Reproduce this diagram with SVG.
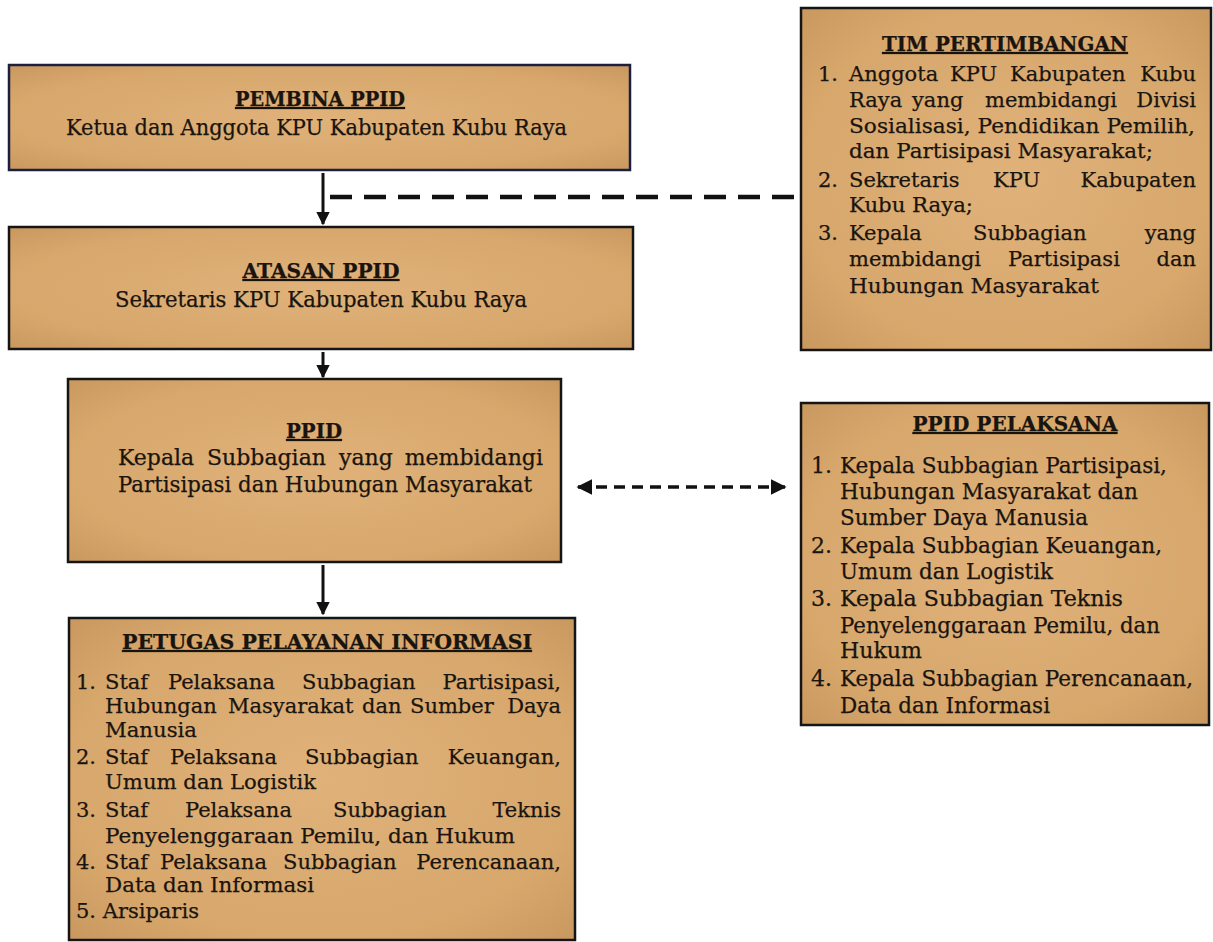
<svg xmlns="http://www.w3.org/2000/svg" width="1213" height="942" viewBox="0 0 1213 942">
<defs>
<radialGradient id="tan" cx="50%" cy="50%" r="72%">
<stop offset="0" stop-color="#E0B27A"/>
<stop offset="0.7" stop-color="#D7A76C"/>
<stop offset="1" stop-color="#C8975E"/>
</radialGradient>
<marker id="ah" viewBox="0 0 10 10" refX="9" refY="5" markerWidth="4.5" markerHeight="4.5" orient="auto-start-reverse" markerUnits="strokeWidth">
<path d="M0,0 L10,5 L0,10 z" fill="#111"/>
</marker>
<style>
.box{fill:url(#tan);stroke:#151515;stroke-width:2.5}
.t{font-family:"DejaVu Serif","Liberation Serif",serif;font-size:22px;fill:#1a140e;stroke:#1a140e;stroke-width:0.25}
.s{font-size:21px}
.m{font-size:21px}
.h{font-weight:bold;text-decoration:underline;text-anchor:middle;font-size:20px}
.con{stroke:#111;fill:none}
</style>
</defs>
<rect width="1213" height="942" fill="#ffffff"/>

<g id="connectors">
<line class="con" x1="323" y1="173" x2="323" y2="224" stroke-width="3" marker-end="url(#ah)"/>
<line class="con" x1="330" y1="197" x2="800" y2="197" stroke-width="4.5" stroke-dasharray="22,12"/>
<line class="con" x1="323" y1="352" x2="323" y2="377" stroke-width="3" marker-end="url(#ah)"/>
<line class="con" x1="323" y1="565" x2="323" y2="614" stroke-width="3" marker-end="url(#ah)"/>
<line class="con" x1="578" y1="487" x2="785" y2="487" stroke-width="3.5" stroke-dasharray="11,7" marker-start="url(#ah)" marker-end="url(#ah)"/>
</g>

<g id="pembina">
<rect class="box" x="9" y="65" width="621" height="105" style="stroke:#1c2040"/>
<text class="t h" x="320" y="106" textLength="170" lengthAdjust="spacingAndGlyphs">PEMBINA PPID</text>
<text class="t" x="66" y="135" textLength="501" lengthAdjust="spacingAndGlyphs">Ketua dan Anggota KPU Kabupaten Kubu Raya</text>
</g>

<g id="atasan">
<rect class="box" x="9" y="227" width="624" height="122"/>
<text class="t h" x="321" y="278" textLength="157" lengthAdjust="spacingAndGlyphs">ATASAN PPID</text>
<text class="t" x="115" y="307" textLength="412" lengthAdjust="spacingAndGlyphs">Sekretaris KPU Kabupaten Kubu Raya</text>
</g>

<g id="ppid">
<rect class="box" x="68" y="379" width="493" height="183"/>
<text class="t h" x="314" y="438" textLength="56" lengthAdjust="spacingAndGlyphs">PPID</text>
<text class="t" y="465"><tspan x="118">Kepala</tspan><tspan x="207">Subbagian</tspan><tspan x="339">yang</tspan><tspan x="543" text-anchor="end">membidangi</tspan></text>
<text class="t" x="118" y="492" textLength="414" lengthAdjust="spacingAndGlyphs">Partisipasi dan Hubungan Masyarakat</text>
</g>

<g id="petugas">
<rect class="box" x="69" y="618" width="506" height="322"/>
<text class="t h" x="327" y="649" textLength="410" lengthAdjust="spacingAndGlyphs">PETUGAS PELAYANAN INFORMASI</text>
<g class="t s">
<text x="76" y="689">1.</text>
<text y="689"><tspan x="105">Staf</tspan><tspan x="168">Pelaksana</tspan><tspan x="302">Subbagian</tspan><tspan x="561" text-anchor="end">Partisipasi,</tspan></text>
<text y="713"><tspan x="105">Hubungan</tspan><tspan x="228">Masyarakat</tspan><tspan x="362">dan</tspan><tspan x="410">Sumber</tspan><tspan x="561" text-anchor="end">Daya</tspan></text>
<text x="105" y="737" textLength="92" lengthAdjust="spacingAndGlyphs">Manusia</text>
<text x="76" y="764">2.</text>
<text y="764"><tspan x="105">Staf</tspan><tspan x="170">Pelaksana</tspan><tspan x="305">Subbagian</tspan><tspan x="561" text-anchor="end">Keuangan,</tspan></text>
<text x="105" y="789" textLength="211" lengthAdjust="spacingAndGlyphs">Umum dan Logistik</text>
<text x="76" y="817">3.</text>
<text y="817"><tspan x="105">Staf</tspan><tspan x="185">Pelaksana</tspan><tspan x="333">Subbagian</tspan><tspan x="561" text-anchor="end">Teknis</tspan></text>
<text x="105" y="843" textLength="410" lengthAdjust="spacingAndGlyphs">Penyelenggaraan Pemilu, dan Hukum</text>
<text x="76" y="869">4.</text>
<text y="869"><tspan x="105">Staf</tspan><tspan x="160">Pelaksana</tspan><tspan x="283">Subbagian</tspan><tspan x="561" text-anchor="end">Perencanaan,</tspan></text>
<text x="105" y="892" textLength="209" lengthAdjust="spacingAndGlyphs">Data dan Informasi</text>
<text x="76" y="918">5. Arsiparis</text>
</g>
</g>

<g id="tim">
<rect class="box" x="801" y="8" width="410" height="342"/>
<text class="t h" x="1005" y="51" textLength="246" lengthAdjust="spacingAndGlyphs">TIM PERTIMBANGAN</text>
<g class="t m">
<text x="818" y="81">1.</text>
<text y="81"><tspan x="849">Anggota</tspan><tspan x="950">KPU</tspan><tspan x="1010">Kabupaten</tspan><tspan x="1196" text-anchor="end">Kubu</tspan></text>
<text y="107"><tspan x="849">Raya</tspan><tspan x="912">yang</tspan><tspan x="985">membidangi</tspan><tspan x="1196" text-anchor="end">Divisi</tspan></text>
<text x="849" y="133" textLength="346" lengthAdjust="spacingAndGlyphs">Sosialisasi, Pendidikan Pemilih,</text>
<text x="849" y="158" textLength="304" lengthAdjust="spacingAndGlyphs">dan Partisipasi Masyarakat;</text>
<text x="818" y="187">2.</text>
<text y="187"><tspan x="849">Sekretaris</tspan><tspan x="993">KPU</tspan><tspan x="1196" text-anchor="end">Kabupaten</tspan></text>
<text x="849" y="212" textLength="124" lengthAdjust="spacingAndGlyphs">Kubu Raya;</text>
<text x="818" y="240">3.</text>
<text y="240"><tspan x="849">Kepala</tspan><tspan x="973">Subbagian</tspan><tspan x="1196" text-anchor="end">yang</tspan></text>
<text y="266"><tspan x="849">membidangi</tspan><tspan x="1008">Partisipasi</tspan><tspan x="1196" text-anchor="end">dan</tspan></text>
<text x="849" y="293" textLength="250" lengthAdjust="spacingAndGlyphs">Hubungan Masyarakat</text>
</g>
</g>

<g id="pelaksana">
<rect class="box" x="801" y="403" width="408" height="322"/>
<text class="t h" x="1015" y="431" textLength="205" lengthAdjust="spacingAndGlyphs">PPID PELAKSANA</text>
<g class="t">
<text x="811" y="473">1.</text>
<text x="840" y="473" textLength="327" lengthAdjust="spacingAndGlyphs">Kepala Subbagian Partisipasi,</text>
<text x="840" y="499" textLength="298" lengthAdjust="spacingAndGlyphs">Hubungan Masyarakat dan</text>
<text x="840" y="525" textLength="248" lengthAdjust="spacingAndGlyphs">Sumber Daya Manusia</text>
<text x="811" y="553">2.</text>
<text x="840" y="553" textLength="322" lengthAdjust="spacingAndGlyphs">Kepala Subbagian Keuangan,</text>
<text x="840" y="579" textLength="213" lengthAdjust="spacingAndGlyphs">Umum dan Logistik</text>
<text x="811" y="606">3.</text>
<text x="840" y="606" textLength="283" lengthAdjust="spacingAndGlyphs">Kepala  Subbagian Teknis</text>
<text x="840" y="633" textLength="320" lengthAdjust="spacingAndGlyphs">Penyelenggaraan Pemilu, dan</text>
<text x="840" y="658" textLength="82" lengthAdjust="spacingAndGlyphs">Hukum</text>
<text x="811" y="686">4.</text>
<text x="840" y="686" textLength="353" lengthAdjust="spacingAndGlyphs">Kepala Subbagian Perencanaan,</text>
<text x="840" y="713" textLength="210" lengthAdjust="spacingAndGlyphs">Data dan Informasi</text>
</g>
</g>
</svg>
